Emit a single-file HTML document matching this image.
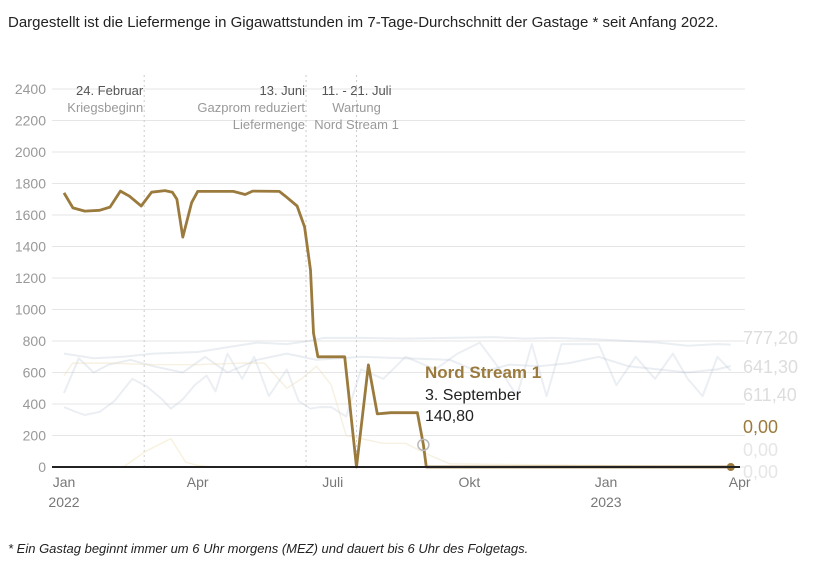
<!DOCTYPE html>
<html><head><meta charset="utf-8"><style>
body{margin:0;background:#fff;width:819px;height:559px;overflow:hidden;font-family:"Liberation Sans",sans-serif}
</style></head><body>
<svg width="819" height="559" xmlns="http://www.w3.org/2000/svg" font-family="Liberation Sans, sans-serif">
<text x="8" y="27" font-size="15" fill="#222">Dargestellt ist die Liefermenge in Gigawattstunden im 7-Tage-Durchschnitt der Gastage * seit Anfang 2022.</text>
<g id="grid"></g><g id="annot"></g><g id="faint"></g><g id="main"></g><g id="axes"></g>
<text x="8" y="553" font-size="13" font-style="italic" fill="#222">* Ein Gastag beginnt immer um 6 Uhr morgens (MEZ) und dauert bis 6 Uhr des Folgetags.</text>
</svg>
<script>
const yTicks=[0,200,400,600,800,1000,1200,1400,1600,1800,2000,2200,2400];
const xTickDays=[0,90,181,273,365,455];
const xTickLabels=["Jan","Apr","Juli","Okt","Jan","Apr"];
const xTickSub=["2022","","","","2023",""];
const nsDays=[0,6,14,24,31,38,44,52,59,68,73,76,80,86,90,114,122,127,145,149,157,162,166,168,171,189,197,205,211,220,238,242,244,449];
const nsValues=[1740,1645,1625,1630,1650,1752,1720,1657,1745,1755,1745,1700,1460,1680,1750,1750,1730,1752,1750,1720,1657,1524,1250,850,700,700,0,648,337,345,345,140.8,0,0];
const fA_days=[0,20,40,60,90,110,130,150,165,175,200,230,260,290,310,330,360,380,400,420,440,449];
const fA_vals=[720,690,700,720,730,760,790,780,800,820,820,815,820,825,815,820,810,800,790,770,780,777.2];
const fB_days=[0,10,20,30,45,60,80,95,110,130,150,170,200,230,260,280,300,320,340,360,380,400,420,440,449];
const fB_vals=[470,690,600,650,680,640,600,700,600,680,720,680,700,690,680,600,650,640,660,700,640,620,600,620,641.3];
const fC_days=[0,8,14,24,34,46,56,66,72,80,88,96,102,110,120,128,138,150,158,166,172,180,190,200,215,230,250,265,280,295,305,315,325,335,345,360,372,385,398,410,420,430,440,449];
const fC_vals=[380,350,330,350,420,560,510,430,370,430,520,580,480,720,560,700,450,620,420,370,380,380,320,620,560,700,620,720,790,600,450,780,450,780,780,780,520,700,560,720,560,450,700,611.4];
const fT_days=[0,6,30,60,90,120,135,150,160,170,180,190,200,215,230,245,260,449];
const fT_vals=[580,660,660,650,650,660,660,500,560,640,520,200,180,150,150,80,20,0];
const fS_days=[40,55,72,82,90,100,449];
const fS_vals=[0,100,180,30,10,0,0];
const ns="http://www.w3.org/2000/svg";
const X=d=>64+d*1.485, Y=v=>467-v*0.1575;
function mk(t,a,p){const e=document.createElementNS(ns,t);for(const k in a)e.setAttribute(k,a[k]);p.appendChild(e);return e;}
const G=document.getElementById('grid'),A=document.getElementById('axes'),F=document.getElementById('faint'),M=document.getElementById('main'),N=document.getElementById('annot');
yTicks.forEach(v=>{
 const l=mk('line',{x1:52,x2:745,y1:Y(v),y2:Y(v),stroke:'#e6e6e6','stroke-width':1},G);
 
 
 const t=mk('text',{x:46,y:Y(v)+5,'text-anchor':'end','font-size':14,fill:'#999'},A);
 t.textContent=v;
 
 
});
xTickDays.forEach((d,i)=>{
 const t=mk('text',{x:X(d),y:487,'text-anchor':'middle','font-size':14,fill:'#777'},A);
 t.textContent=xTickLabels[i];
 
 
 if(xTickSub[i]){const s=mk('text',{x:X(d),y:507,'text-anchor':'middle','font-size':14,fill:'#777'},A);s.textContent=xTickSub[i];
 
 }
});
const ax=mk('line',{x1:52,x2:740,y1:467,y2:467,stroke:'#222','stroke-width':2},A);


const annots=[[54,'end',["24. Februar","Kriegsbeginn"]],[163,'end',["13. Juni","Gazprom reduziert","Liefermenge"]],[197,'middle',["11. - 21. Juli","Wartung","Nord Stream 1"]]];
annots.forEach(a=>{
 const x=X(a[0]);
 const l=mk('line',{x1:x,x2:x,y1:75,y2:467,stroke:'#ccc','stroke-dasharray':'2,3'},N);
 
 
 a[2].forEach((s,i)=>{const t=mk('text',{x:a[1]=='end'?x-1:x,y:95+i*17,'text-anchor':a[1],'font-size':13,fill:i==0?'#555':'#999'},N);t.textContent=s;
 
 });
});
function path(ds,vs,col,w,op,g,name){
 let d='';ds.forEach((x,i)=>{d+=(i?'L':'M')+X(x).toFixed(1)+','+Y(vs[i]).toFixed(1);});
 const p=mk('path',{d:d,fill:'none',stroke:col,'stroke-width':w,opacity:op,'stroke-linejoin':'round'},g);
 
 
}
path(fA_days,fA_vals,'#b8c6d4',2,0.3,F,'series-line-a');
path(fB_days,fB_vals,'#b8c6d4',2,0.3,F,'series-line-b');
path(fC_days,fC_vals,'#b8c6d4',2,0.28,F,'series-line-c');
path(fT_days,fT_vals,'#e8d6b0',1.5,0.35,F,'series-line-d');
path(fS_days,fS_vals,'#efe2b8',1.5,0.45,F,'series-line-e');
path(nsDays,nsValues,'#9b7a3d',2.8,1,M,'nord-stream-1-line');
const hi=31;
const c=mk('circle',{cx:X(nsDays[hi]),cy:Y(nsValues[hi]),r:5.5,fill:'none',stroke:'#bbb','stroke-width':1.5},M);


const last=nsDays.length-1;
const e=mk('circle',{cx:X(nsDays[last]),cy:Y(nsValues[last]),r:4,fill:'#9b7a3d'},M);


const tips=[["Nord Stream 1",17,'#9b7a3d','bold',378],["3. September",16,'#222','normal',400],["140,80",16,'#222','normal',421]];
tips.forEach(t=>{const el=mk('text',{x:425,y:t[4],'font-size':t[1],fill:t[2],'font-weight':t[3]},M);el.textContent=t[0];
 
 });
const ends=[["777,20",344,'#ddd'],["641,30",373,'#ddd'],["611,40",401,'#ddd'],["0,00",433,'#9b7a3d'],["0,00",456,'#e6e6e6'],["0,00",478,'#e6e6e6']];
ends.forEach(t=>{const el=mk('text',{x:743,y:t[1],'font-size':18,fill:t[2]},A);el.textContent=t[0];
 
 });
</script>
</body></html>
